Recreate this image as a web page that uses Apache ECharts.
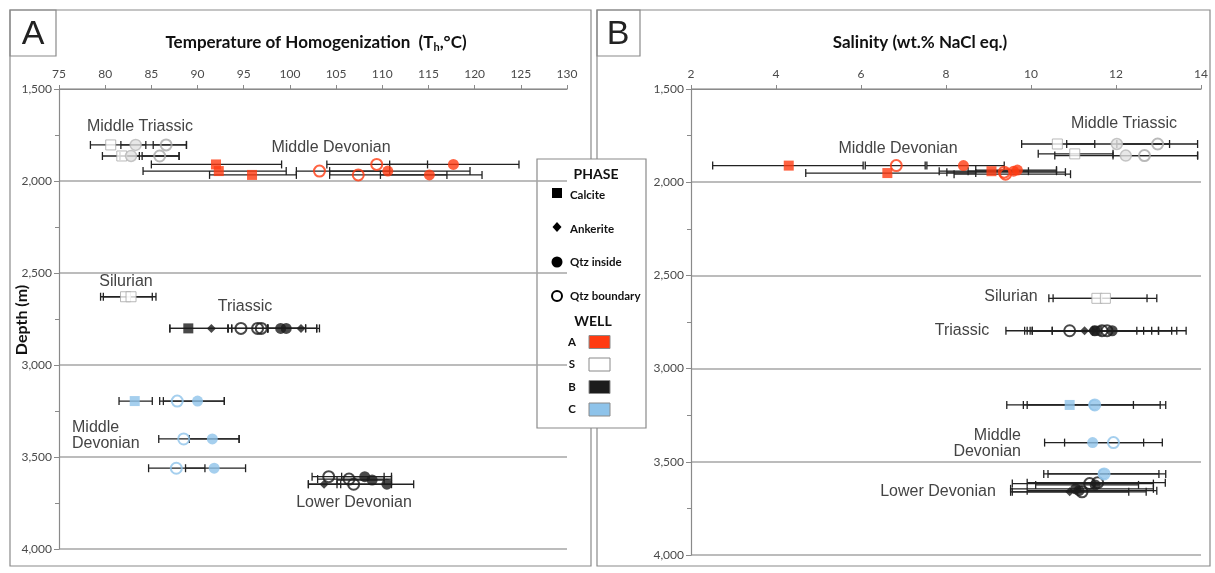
<!DOCTYPE html>
<html>
<head>
<meta charset="utf-8">
<script src="https://cdn.jsdelivr.net/npm/echarts@6/dist/echarts.min.js"></script>
<style>
  html, body { margin: 0; background: #fff; }
  #chart { width: 1215px; height: 573px; }
</style>
</head>
<body>
<div id="chart"></div>
<script>
// rows: [value, depth (m), low, high, phase]
// Temperature of homogenization (Th, °C)
const thWellA = [
  [92.0, 1910, 85.0, 99.1, 'calcite'],
  [109.4, 1910, 104.0, 114.9, 'boundary'],
  [117.7, 1910, 110.8, 124.8, 'inside'],
  [92.3, 1946, 84.1, 99.6, 'calcite'],
  [103.2, 1946, 100.7, 110.8, 'boundary'],
  [110.6, 1946, 104.3, 119.5, 'inside'],
  [95.9, 1967, 91.3, 100.7, 'calcite'],
  [107.4, 1967, 104.3, 117.0, 'boundary'],
  [115.1, 1967, 109.8, 120.8, 'inside']
];
const thWellS = [
  [80.6, 1804, 78.4, 84.4, 'calcite'],
  [83.3, 1804, 81.7, 88.8, 'inside'],
  [86.6, 1804, 85.2, 88.8, 'boundary'],
  [81.8, 1864, 79.7, 83.7, 'calcite'],
  [82.8, 1864, 81.6, 88.0, 'inside'],
  [85.9, 1864, 84.0, 88.0, 'boundary'],
  [82.2, 2629, 79.5, 85.1, 'calcite'],
  [82.8, 2629, 79.8, 85.5, 'calcite']
];
const thWellB = [
  [89.0, 2801, 87.0, 93.3, 'calcite'],
  [91.5, 2801, 87.0, 93.7, 'ankerite'],
  [94.7, 2801, 93.3, 97.6, 'boundary'],
  [96.5, 2801, 93.7, 101.7, 'boundary'],
  [96.9, 2801, 93.3, 102.9, 'boundary'],
  [99.0, 2801, 97.6, 103.2, 'inside'],
  [99.6, 2801, 97.6, 101.7, 'inside'],
  [101.2, 2801, 97.6, 102.9, 'ankerite'],
  [104.2, 3607, 102.4, 110.2, 'boundary'],
  [108.1, 3607, 105.6, 111.0, 'inside'],
  [106.4, 3620, 103.0, 111.0, 'boundary'],
  [108.9, 3625, 105.1, 110.2, 'inside'],
  [103.7, 3648, 102.0, 105.5, 'ankerite'],
  [106.9, 3648, 102.0, 111.0, 'boundary'],
  [110.5, 3648, 105.1, 113.4, 'inside']
];
const thWellC = [
  [83.2, 3196, 81.5, 85.1, 'calcite'],
  [87.8, 3196, 85.9, 92.9, 'boundary'],
  [90.0, 3196, 86.3, 92.9, 'inside'],
  [88.5, 3402, 85.8, 94.5, 'boundary'],
  [91.6, 3402, 89.1, 94.5, 'inside'],
  [87.7, 3561, 84.7, 90.8, 'boundary'],
  [91.8, 3561, 88.7, 95.2, 'inside']
];

// Salinity (wt.% NaCl eq.)
const salWellA = [
  [4.30, 1911, 2.51, 6.05, 'calcite'],
  [6.83, 1911, 6.10, 7.51, 'boundary'],
  [8.41, 1911, 7.55, 9.37, 'inside'],
  [6.62, 1951, 4.70, 8.70, 'calcite'],
  [9.07, 1941, 7.84, 10.60, 'calcite'],
  [9.37, 1946, 8.02, 10.81, 'boundary'],
  [9.40, 1957, 8.19, 10.93, 'boundary'],
  [9.59, 1941, 8.52, 9.94, 'inside'],
  [9.68, 1935, 8.70, 10.60, 'inside']
];
const salWellS = [
  [10.62, 1795, 9.78, 11.50, 'calcite'],
  [12.02, 1795, 10.84, 13.26, 'inside'],
  [12.98, 1795, 12.02, 13.92, 'boundary'],
  [11.03, 1848, 10.17, 11.93, 'calcite'],
  [12.23, 1857, 10.56, 13.92, 'inside'],
  [12.67, 1857, 11.93, 13.92, 'boundary'],
  [11.55, 2623, 10.42, 12.73, 'calcite'],
  [11.75, 2623, 10.52, 12.96, 'calcite']
];
const salWellB = [
  [10.91, 2797, 9.41, 12.49, 'boundary'],
  [11.26, 2797, 9.85, 12.65, 'ankerite'],
  [11.44, 2797, 9.91, 12.84, 'ankerite'],
  [11.55, 2797, 9.98, 13.00, 'calcite'],
  [11.50, 2797, 10.03, 13.31, 'inside'],
  [11.67, 2797, 10.50, 13.43, 'boundary'],
  [11.79, 2797, 10.03, 13.65, 'boundary'],
  [11.91, 2797, 10.50, 13.00, 'inside'],
  [11.38, 3617, 9.56, 12.88, 'boundary'],
  [11.57, 3612, 9.91, 13.16, 'boundary'],
  [11.51, 3624, 10.11, 12.53, 'inside'],
  [11.05, 3645, 9.52, 12.88, 'inside'],
  [10.91, 3661, 9.52, 12.30, 'ankerite'],
  [11.20, 3661, 9.56, 12.71, 'boundary'],
  [11.13, 3655, 9.91, 12.96, 'inside']
];
const salWellC = [
  [10.91, 3195, 9.43, 12.41, 'calcite'],
  [11.48, 3195, 9.82, 13.04, 'inside'],
  [11.50, 3195, 9.91, 13.17, 'boundary'],
  [11.45, 3397, 10.32, 12.65, 'inside'],
  [11.94, 3397, 10.79, 13.09, 'boundary'],
  [11.70, 3565, 10.30, 13.01, 'inside'],
  [11.72, 3565, 10.40, 13.17, 'boundary']
];

const wellNames = ['A', 'S', 'B', 'C'];
const wellColors = { A: '#ff3b12', S: '#ffffff', B: '#1c1c1c', C: '#8ec3ea' };
const phases = ['calcite', 'ankerite', 'inside', 'boundary'];
const phaseLabels = ['Calcite', 'Ankerite', 'Qtz inside', 'Qtz boundary'];

const panels = [
  { A: thWellA, S: thWellS, B: thWellB, C: thWellC },
  { A: salWellA, S: salWellS, B: salWellB, C: salWellC }
];

function renderBar(params, api) {
  const y = api.value(1);
  const a = api.coord([api.value(2), y]);
  const b = api.coord([api.value(3), y]);
  const h = 4;
  const st = { stroke: '#222', lineWidth: 1.3 };
  return {
    type: 'group',
    children: [
      { type: 'line', shape: { x1: a[0], y1: a[1], x2: b[0], y2: b[1] }, style: st },
      { type: 'line', shape: { x1: a[0], y1: a[1] - h, x2: a[0], y2: a[1] + h }, style: st },
      { type: 'line', shape: { x1: b[0], y1: b[1] - h, x2: b[0], y2: b[1] + h }, style: st }
    ]
  };
}

function pointStyle(well, phase) {
  const c = wellColors[well];
  const edge = well === 'S' ? '#a8a8a8' : c;
  if (phase === 'boundary') {
    return { symbol: 'circle', size: 11, style: { color: 'rgba(255,255,255,0)', borderColor: edge, borderWidth: 2 } };
  }
  if (phase === 'calcite') {
    return { symbol: 'rect', size: 10, style: { color: c, borderColor: edge, borderWidth: well === 'S' ? 1 : 0 } };
  }
  if (phase === 'ankerite') {
    return { symbol: 'diamond', size: 9, style: { color: c, borderColor: edge, borderWidth: 0 } };
  }
  return {
    symbol: 'circle', size: 11,
    style: { color: well === 'S' ? '#e2e2e2' : c, borderColor: well === 'S' ? '#b8b8b8' : c, borderWidth: well === 'S' ? 1.5 : 0 }
  };
}

const series = [];
panels.forEach((p, i) => {
  let all = [];
  wellNames.forEach(w => { all = all.concat(p[w]); });
  series.push({
    type: 'custom', xAxisIndex: i, yAxisIndex: i, renderItem: renderBar,
    encode: { x: [2, 3], y: 1 }, data: all, z: 2, silent: true
  });
  wellNames.forEach(w => {
    phases.forEach(ph => {
      const rows = p[w].filter(r => r[4] === ph);
      if (!rows.length) return;
      const s = pointStyle(w, ph);
      series.push({
        type: 'scatter', xAxisIndex: i, yAxisIndex: i, z: 3,
        symbol: s.symbol, symbolSize: s.size, itemStyle: s.style,
        data: rows.map(r => [r[0], r[1]])
      });
    });
  });
});

const axisColor = '#8a8a8a';
const tickFont = { fontFamily: 'Lato', fontSize: 12, color: '#4a4a4a' };
function xAxis(idx, min, max, interval) {
  return {
    type: 'value', gridIndex: idx, position: 'top', min: min, max: max, interval: interval,
    axisLine: { show: true, lineStyle: { color: axisColor, width: 1.2 } },
    axisTick: { show: true, length: 4, lineStyle: { color: axisColor } },
    axisLabel: Object.assign({ margin: 9 }, tickFont),
    splitLine: { show: false }
  };
}
function yAxis(idx) {
  return {
    type: 'value', gridIndex: idx, inverse: true, min: 1500, max: 4000, interval: 500,
    axisLine: { show: true, lineStyle: { color: axisColor, width: 1.2 } },
    axisTick: { show: true, length: 5, lineStyle: { color: axisColor } },
    minorTick: { show: true, splitNumber: 2, length: 4, lineStyle: { color: axisColor } },
    axisLabel: Object.assign({ margin: 7, formatter: v => v.toLocaleString('en-US') }, tickFont),
    splitLine: { show: true, lineStyle: { color: '#a6a6a6', width: 1.5 } }
  };
}

const labelFont = { fontFamily: 'Liberation Sans', fontSize: 16, fill: '#444' };
function note(text, x, y, align) {
  return {
    type: 'text', x: x, y: y, z: 5,
    style: Object.assign({ text: text, align: align || 'center', verticalAlign: 'middle', lineHeight: 16 }, labelFont)
  };
}

const legendBold = { fontFamily: 'Lato', fontWeight: 'bold', fill: '#111' };
function legText(text, x, y, size, align) {
  return {
    type: 'text', x: x, y: y,
    style: Object.assign({ text: text, fontSize: size, align: align || 'left', verticalAlign: 'middle' }, legendBold)
  };
}

const legend = {
  type: 'group', z: 100,
  children: [
    { type: 'rect', shape: { x: 537, y: 159, width: 109, height: 269 }, style: { fill: '#fff', stroke: '#8a8a8a', lineWidth: 1.2 } },
    legText('PHASE', 596, 174, 14, 'center'),
    { type: 'rect', shape: { x: 552, y: 188, width: 10, height: 10 }, style: { fill: '#000' } },
    legText(phaseLabels[0], 570, 195, 11.5),
    { type: 'polygon', shape: { points: [[557, 222], [561.5, 227], [557, 232], [552.5, 227]] }, style: { fill: '#000' } },
    legText(phaseLabels[1], 570, 229, 11.5),
    { type: 'circle', shape: { cx: 557, cy: 262, r: 5.5 }, style: { fill: '#000' } },
    legText(phaseLabels[2], 570, 262, 11.5),
    { type: 'circle', shape: { cx: 557, cy: 296, r: 5 }, style: { fill: '#fff', stroke: '#000', lineWidth: 2 } },
    legText(phaseLabels[3], 570, 296, 11.5),
    legText('WELL', 593, 321, 14, 'center')
  ]
};
wellNames.forEach((w, i) => {
  const y = 342 + i * 22.5;
  legend.children.push(legText(w, 572, y, 11.5, 'center'));
  legend.children.push({
    type: 'rect', shape: { x: 589, y: y - 6.5, width: 21, height: 13 },
    style: { fill: wellColors[w], stroke: '#8a8a8a', lineWidth: 1 }
  });
});

const frame = { fill: 'none', stroke: '#8a8a8a', lineWidth: 1.2 };

const option = {
  backgroundColor: '#fff',
  animation: false,
  grid: [
    { left: 59, top: 89, width: 508, height: 460 },
    { left: 691, top: 89, width: 510, height: 466 }
  ],
  xAxis: [xAxis(0, 75, 130, 5), xAxis(1, 2, 14, 2)],
  yAxis: [yAxis(0), yAxis(1)],
  series: series,
  graphic: [
    { type: 'rect', shape: { x: 10, y: 10, width: 581, height: 556 }, style: frame, z: 0 },
    { type: 'rect', shape: { x: 597, y: 10, width: 613, height: 556 }, style: frame, z: 0 },
    { type: 'rect', shape: { x: 10, y: 10, width: 46, height: 46 }, style: frame, z: 0 },
    { type: 'rect', shape: { x: 597, y: 10, width: 43, height: 46 }, style: frame, z: 0 },
    { type: 'text', x: 33, y: 35, style: { text: 'A', fontFamily: 'Liberation Sans', fontSize: 34, fill: '#222', align: 'center', verticalAlign: 'middle' } },
    { type: 'text', x: 618, y: 35, style: { text: 'B', fontFamily: 'Liberation Sans', fontSize: 34, fill: '#222', align: 'center', verticalAlign: 'middle' } },
    {
      type: 'text', x: 316, y: 43,
      style: {
        text: '{t|Temperature of Homogenization  (T}{s|h}{t|,°C)}', align: 'center', verticalAlign: 'middle',
        rich: {
          t: { fontFamily: 'Lato', fontWeight: 'bold', fontSize: 17, fill: '#111' },
          s: { fontFamily: 'Lato', fontWeight: 'bold', fontSize: 11, fill: '#111', padding: [9, 0, 0, 0] }
        }
      }
    },
    { type: 'text', x: 920, y: 43, style: { text: 'Salinity (wt.% NaCl eq.)', fontFamily: 'Lato', fontWeight: 'bold', fontSize: 17, fill: '#111', align: 'center', verticalAlign: 'middle' } },
    { type: 'text', x: 22, y: 320, rotation: Math.PI / 2, style: { text: 'Depth (m)', fontFamily: 'Lato', fontWeight: 'bold', fontSize: 16, fill: '#111', align: 'center', verticalAlign: 'middle' } },
    note('Middle Triassic', 140, 127),
    note('Middle Devonian', 331, 148),
    note('Silurian', 126, 282),
    note('Triassic', 245, 307),
    note('Middle\nDevonian', 72, 436, 'left'),
    note('Lower Devonian', 354, 503),
    note('Middle Triassic', 1124, 124),
    note('Middle Devonian', 898, 149),
    note('Silurian', 1011, 297),
    note('Triassic', 962, 331),
    note('Middle\nDevonian', 1021, 444, 'right'),
    note('Lower Devonian', 938, 492),
    legend
  ]
};

const chart = echarts.init(document.getElementById('chart'), null, { renderer: 'canvas' });
chart.setOption(option);
</script>
</body>
</html>
